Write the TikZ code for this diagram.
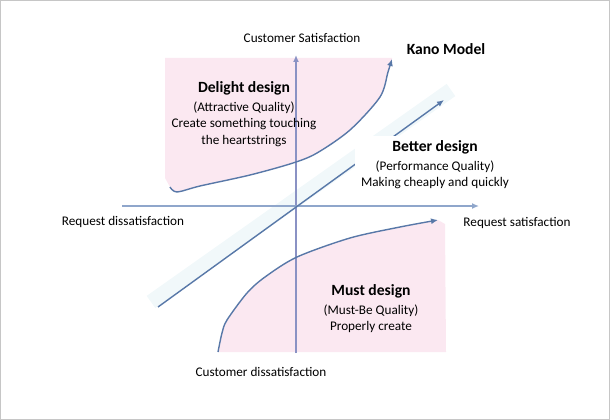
\documentclass[tikz,border=0pt]{standalone}
\usepackage{fontspec}
\setmainfont{Carlito}
\usetikzlibrary{positioning,arrows.meta}
\definecolor{BlushPink}{HTML}{FBE8F1}
\definecolor{MistCyan}{HTML}{F1F8FA}
\definecolor{CurveBlue}{HTML}{5878A8}
\definecolor{AxisLilac}{HTML}{8A92C4}
\definecolor{AxisBlue}{HTML}{8FA6CB}
\definecolor{FrameGray}{HTML}{C6C6C6}

\begin{document}
\begin{tikzpicture}[
  x=1pt, y=-1pt,
  label/.style={font=\fontsize{13.2}{15}\selectfont, inner sep=0pt},
  title/.style={font=\fontsize{15.6}{18}\selectfont\bfseries, inner sep=0pt},
  desc/.style={font=\fontsize{13.2}{16.5}\selectfont, align=center, inner sep=0pt},
  axis/.style={-{Latex[length=7pt,width=6pt]}, line width=1.3pt},
  curve/.style={-{Latex[length=7pt,width=6pt]}, line width=1.4pt, color=CurveBlue}
]
  % Pixel grid of the reference, y runs downward.
  \useasboundingbox (0,0) rectangle (610,420);
  \draw[FrameGray, line width=1.4pt] (0.7,0.7) rectangle (609.3,419.3);

  \coordinate (origin) at (296,206);
  \coordinate (ytop) at (296,55);
  \coordinate (ybot) at (296,353);
  \coordinate (xleft) at (122,206);
  \coordinate (xright) at (479,206);
  \coordinate (diagstart) at (158,307);
  \coordinate (diagend) at (444,100);

  \fill[BlushPink] (165,58) -- (392,58) -- plot[smooth] coordinates {(392,59) (388,72) (380,97) (350,130) (317,153) (293,163) (250,175) (200,186) (177,192) (170,187)} -- (165,178) -- cycle;
  \fill[BlushPink] plot[smooth] coordinates {(218,352) (222,333) (227,320) (247,293) (265,277) (297,257) (350,238) (400,227) (438,220)} -- (445,224) -- (446,352) -- cycle;

  \draw[MistCyan, line width=15pt] (151,302) -- (451,90);

  \draw[axis, AxisLilac] (ybot) -- (ytop);
  \draw[axis, AxisBlue] (xleft) -- (xright);
  \draw[curve] (diagstart) -- (diagend);

  \draw[curve] plot[smooth] coordinates {(170,187) (177,192) (200,186) (250,175) (293,163) (317,153) (350,130) (380,97) (388,72) (392,59)};
  \draw[curve] plot[smooth] coordinates {(218,352) (222,333) (227,320) (247,293) (265,277) (297,257) (350,238) (400,227) (438,220)};

  \fill[white] (355,136) rectangle (512,189);

  \node[label] (satlabel) at (302,38) {Customer Satisfaction};
  \node[label] (dissatlabel) at (261,372) {Customer dissatisfaction};
  \node[label] (reqdis) at (123,222) {Request dissatisfaction};
  \node[label] (reqsat) at (517,223) {Request satisfaction};
  \node[title] (kano) at (446,49) {Kano Model};

  \node[title] (delight) at (244,88) {Delight design};
  \node[desc, below=6.5pt of delight] (delightdesc) {(Attractive Quality)\\Create something touching\\the heartstrings};
  \node[title] (better) at (435,147) {Better design};
  \node[desc, below=6.5pt of better] (betterdesc) {(Performance Quality)\\Making cheaply and quickly};
  \node[title] (must) at (371,291) {Must design};
  \node[desc, below=6.5pt of must] (mustdesc) {(Must-Be Quality)\\Properly create};
\end{tikzpicture}
\end{document}
